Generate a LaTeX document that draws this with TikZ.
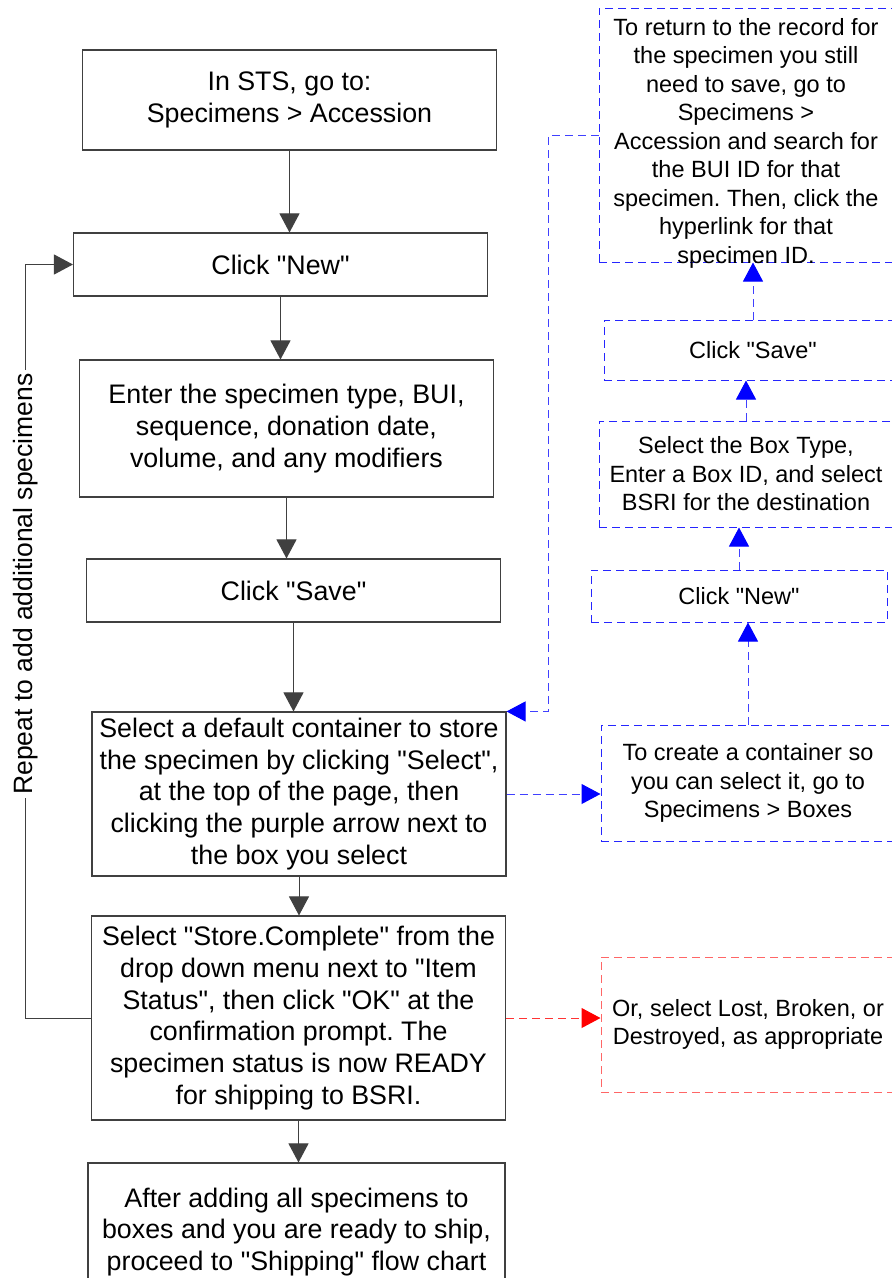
\documentclass[tikz,border=0pt]{standalone}
\usepackage{fontspec}
\setmainfont{Liberation Sans}[Ligatures=TeXOff]
\usetikzlibrary{arrows.meta,calc,positioning}
\frenchspacing

\begin{document}
\begin{tikzpicture}[
  x=1pt, y=-1pt,
  >={Triangle[length=19pt,width=20pt]},
  box/.style  ={draw=black!75,line width=1.1pt,rectangle,minimum width=414pt,
                align=center,inner sep=2pt,font=\fontsize{26.8}{31.7}\selectfont},
  note/.style ={draw=blue!85,line width=1pt,dash pattern=on 8pt off 5pt,rectangle,
                align=center,inner sep=2pt,font=\fontsize{23.5}{28.5}\selectfont},
  alert/.style={note,draw=red!60},
  flow/.style ={->,draw=black!75,line width=1pt},
  bflow/.style={-{Triangle[length=19pt,width=20pt,color=blue]},draw=blue!75,
                line width=1pt,dash pattern=on 8pt off 5pt},
  rflow/.style={-{Triangle[length=19pt,width=20pt,color=red]},draw=red!80,
                line width=1pt,dash pattern=on 8pt off 5pt},
]
\useasboundingbox (0,0) rectangle (892,1278);

%% =============================================
%% Main accession steps
%% =============================================
\node[box,minimum height=100pt] (sts) at (289.5,100) {In STS, go to:\\Specimens > Accession};
\node[box,minimum height=63pt] (new) at (280.5,264.5) {Click "New"};
\node[box,minimum height=137pt] (enter) at (286.5,428.5)
  {Enter the specimen type, BUI,\\sequence, donation date,\\volume, and any modifiers};
\node[box,minimum height=63pt] (save) at (293.5,590.5) {Click "Save"};
\node[box,minimum height=164pt] (sel) at (299,794)
  {Select a default container to store\\the specimen by clicking "Select",\\at the top of the page, then\\clicking the purple arrow next to\\the box you select};
\node[box,minimum height=204pt] (store) at (298.5,1018)
  {Select "Store.Complete" from the\\drop down menu next to "Item\\Status", then click "OK" at the\\confirmation prompt. The\\specimen status is now READY\\for shipping to BSRI.};
\node[box,minimum height=138pt,minimum width=417pt] (ship) at (296.5,1232)
  {After adding all specimens to\\boxes and you are ready to ship,\\proceed to "Shipping" flow chart};

%% =============================================
%% Side notes (container creation)
%% =============================================
\node[note,minimum width=296pt,minimum height=254pt] (ret) at (747,135) {};
\node[note,draw=none] (rettxt) at (746,143)
  {To return to the record for\\the specimen you still\\need to save, go to\\Specimens >\\Accession and search for\\the BUI ID for that\\specimen. Then, click the\\hyperlink for that\\specimen ID.};
\node[note,minimum width=298pt,minimum height=60pt] (save2) at (753,350) {Click "Save"};
\node[note,minimum width=294pt,minimum height=106pt] (boxtype) at (746,474)
  {Select the Box Type,\\Enter a Box ID, and select\\BSRI for the destination};
\node[note,minimum width=296pt,minimum height=52pt] (new2) at (739,596) {Click "New"};
\node[note,minimum width=294pt,minimum height=116pt] (create) at (748,783)
  {To create a container so\\you can select it, go to\\Specimens > Boxes};
\node[alert,minimum width=294pt,minimum height=135pt] (lost) at (748,1024.5)
  {Or, select Lost, Broken, or\\Destroyed, as appropriate};

%% =============================================
%% Connections
%% =============================================
\draw[flow] (sts.south)   -- (sts.south |- new.north);
\draw[flow] (new.south)   -- (new.south |- enter.north);
\draw[flow] (enter.south) -- (enter.south |- save.north);
\draw[flow] (save.south)  -- (save.south |- sel.north);
\draw[flow] (sel.south)   -- (sel.south |- store.north);
\draw[flow] (store.south) -- (store.south |- ship.north);

% loop back for next specimen
\draw[flow] (store.west) -- ++(-65,0) |- (new.west);
\node[rotate=90,fill=white,inner sep=3pt,font=\fontsize{26.5}{31.7}\selectfont] (rep) at (26,584)
  {Repeat to add additional specimens};

% side branch
\draw[bflow] (sel.east)      -- (sel.east -| create.west);
\draw[bflow] (create.north)  -- (create.north |- new2.south);
\draw[bflow] (new2.north)    -- (new2.north |- boxtype.south);
\draw[bflow] (boxtype.north) -- (boxtype.north |- save2.south);
\draw[bflow] (save2.north)   -- (save2.north |- ret.south);
\draw[bflow] (ret.west) -- ++(-50,0) |- (sel.north east);

\draw[rflow] (store.east) -- (store.east -| lost.west);

\end{tikzpicture}
\end{document}
